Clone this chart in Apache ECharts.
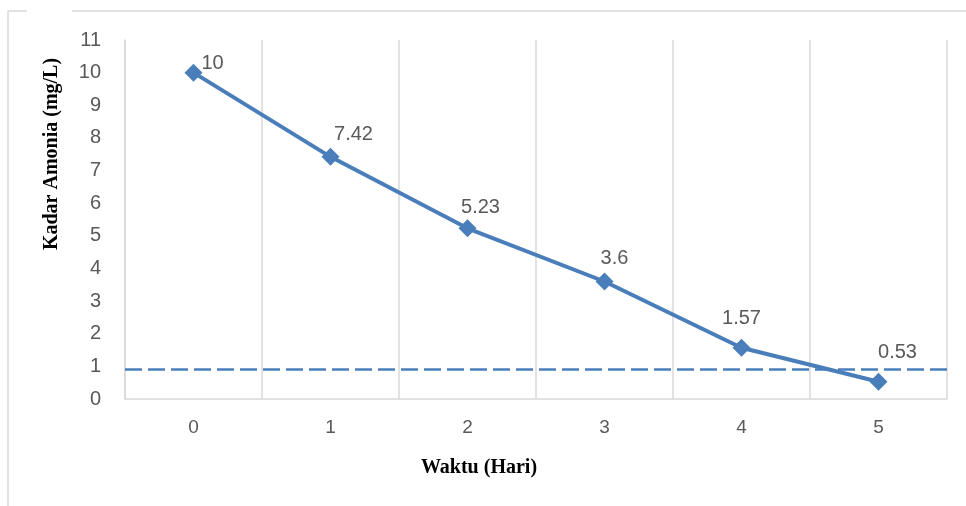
<!DOCTYPE html>
<html>
<head>
<meta charset="utf-8">
<script src="https://cdn.jsdelivr.net/npm/echarts@6/dist/echarts.min.js"></script>
<style>
html,body{margin:0;padding:0;background:#fff;}
#c{width:966px;height:506px;}
</style>
</head>
<body>
<div id="c"></div>
<script>
const categories = ['0', '1', '2', '3', '4', '5'];
const ammoniaValues = [10, 7.42, 5.23, 3.6, 1.57, 0.53];
const thresholdValue = 0.9;
const yTicks = { min: 0, max: 11, interval: 1 };

// label offsets (style only)
const labelOffsets = [[19, 12], [23, -1], [13, 0], [10, -2], [0, -8], [19, -8]];

const blue = '#4a7ebb';
const gridGray = '#d9d9d9';
const textGray = '#595959';

const chart = echarts.init(document.getElementById('c'), null, { renderer: 'canvas' });
chart.setOption({
  animation: false,
  backgroundColor: '#fff',
  grid: { left: 125, right: 19, top: 40, bottom: 107 },
  xAxis: {
    type: 'category',
    data: categories,
    boundaryGap: true,
    axisLine: { show: true, lineStyle: { color: gridGray, width: 1.5 } },
    axisTick: { show: false },
    axisLabel: { color: textGray, fontFamily: 'Liberation Sans', fontSize: 19, margin: 19 },
    splitLine: { show: true, lineStyle: { color: gridGray, width: 1.5 } }
  },
  yAxis: {
    type: 'value',
    min: yTicks.min,
    max: yTicks.max,
    interval: yTicks.interval,
    axisLine: { show: true, lineStyle: { color: gridGray, width: 1.5 } },
    axisTick: { show: false },
    splitLine: { show: false },
    axisLabel: { color: textGray, fontFamily: 'Liberation Sans', fontSize: 20, margin: 24 }
  },
  series: [{
    type: 'line',
    data: ammoniaValues.map((v, i) => ({
      value: v,
      label: { offset: labelOffsets[i] }
    })),
    symbol: 'diamond',
    symbolSize: 18,
    itemStyle: { color: blue },
    lineStyle: { color: blue, width: 4 },
    label: {
      show: true,
      position: 'top',
      distance: 2,
      color: textGray,
      fontFamily: 'Liberation Sans',
      fontSize: 20
    },
    markLine: {
      silent: true,
      symbol: ['none', 'none'],
      label: { show: false },
      lineStyle: { color: blue, width: 2.5, type: [17, 6] },
      data: [{ yAxis: thresholdValue }]
    }
  }],
  graphic: [
    { type: 'line', shape: { x1: 8, y1: 11, x2: 8, y2: 506 }, style: { stroke: gridGray, lineWidth: 1.5 } },
    { type: 'line', shape: { x1: 8, y1: 11, x2: 27, y2: 11 }, style: { stroke: gridGray, lineWidth: 1.5 } },
    { type: 'line', shape: { x1: 72, y1: 11, x2: 966, y2: 11 }, style: { stroke: gridGray, lineWidth: 1.5 } },
    {
      type: 'text', x: 52, y: 154, rotation: Math.PI / 2,
      style: {
        text: 'Kadar Amonia (mg/L)', fill: '#000', font: 'bold 20px "Liberation Serif"',
        textAlign: 'center', textVerticalAlign: 'middle'
      }
    },
    {
      type: 'text', x: 479, y: 468,
      style: {
        text: 'Waktu (Hari)', fill: '#000', font: 'bold 20px "Liberation Serif"',
        textAlign: 'center', textVerticalAlign: 'middle'
      }
    }
  ]
});
</script>
</body>
</html>
